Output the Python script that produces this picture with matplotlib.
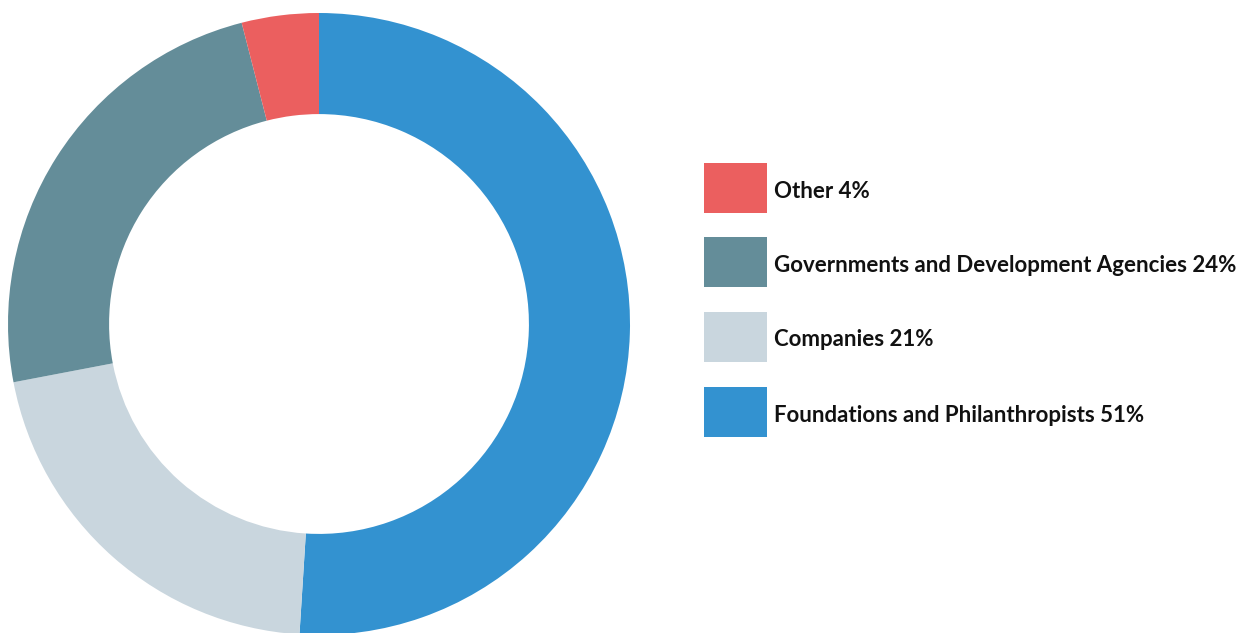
import matplotlib.pyplot as plt
from matplotlib.patches import Rectangle

# data, clockwise from 12 o'clock
labels = ["Foundations and Philanthropists", "Companies",
          "Governments and Development Agencies", "Other"]
shares = [51, 21, 24, 4]
colors = ["#3392D0", "#C9D6DE", "#648D99", "#EB5F5F"]

W, H = 1240, 633
fig = plt.figure(figsize=(W / 100, H / 100), dpi=100)
fig.patch.set_facecolor("white")

# donut
ax = fig.add_axes([8 / W, -2 / H, 622 / W, 622 / H])
ax.pie(shares, colors=colors, startangle=90, counterclock=False,
       radius=1.0, wedgeprops=dict(width=0.325, linewidth=0))
ax.set_xlim(-1, 1)
ax.set_ylim(-1, 1)
ax.set_aspect("equal")
ax.axis("off")

# legend (reverse order, Other on top)
lax = fig.add_axes([0, 0, 1, 1])
lax.set_xlim(0, W)
lax.set_ylim(H, 0)
lax.axis("off")
box_top = [163, 237, 312, 387]
for i, idx in enumerate(reversed(range(len(labels)))):
    y0 = box_top[i]
    lax.add_patch(Rectangle((704, y0), 63, 50, color=colors[idx], lw=0))
    lax.text(774, y0 + 28, f"{labels[idx]} {shares[idx]}%",
             fontsize=16, fontweight="bold", family="Lato",
             va="center", ha="left", color="#111111")

fig.savefig("out.png", dpi=100)
